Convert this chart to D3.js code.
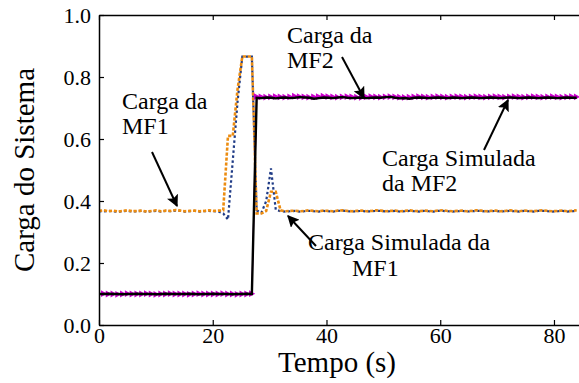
<!DOCTYPE html>
<html>
<head>
<meta charset="utf-8">
<script src="https://cdn.jsdelivr.net/npm/d3@7/dist/d3.min.js"></script>
<style>
html,body{margin:0;padding:0;background:#fff;}
svg{display:block;}
svg text{font-family:"Liberation Serif","Tinos","Times New Roman",Times,"Nimbus Roman","DejaVu Serif",serif !important;fill:#000;}
</style>
</head>
<body>
<svg id="chart" width="579" height="383"></svg>
<script>
// ---- data ----
const time = [0,0.84,1.68,2.52,3.36,4.2,5.04,5.88,6.72,7.56,8.4,9.24,10.08,10.92,11.76,12.6,13.44,14.28,15.12,15.96,16.8,17.64,18.48,19.32,20.16,21,21.84,22.68,23.52,24.36,25.2,26.04,26.88,27.72,28.56,29.4,30.24,31.08,31.92,32.76,33.6,34.44,35.28,36.12,36.96,37.8,38.64,39.48,40.32,41.16,42,42.84,43.68,44.52,45.36,46.2,47.04,47.88,48.72,49.56,50.4,51.24,52.08,52.92,53.76,54.6,55.44,56.28,57.12,57.96,58.8,59.64,60.48,61.32,62.16,63,63.84,64.68,65.52,66.36,67.2,68.04,68.88,69.72,70.56,71.4,72.24,73.08,73.92,74.76,75.6,76.44,77.28,78.12,78.96,79.8,80.64,81.48,82.32,83.16,84];

const mf2Sim = [0.100,0.101,0.100,0.100,0.099,0.100,0.101,0.100,0.100,0.100,0.101,0.100,0.099,0.100,0.100,0.101,0.100,0.100,0.100,0.099,0.100,0.101,0.100,0.100,0.100,0.100,0.101,0.100,0.100,0.099,0.100,0.100,0.101,
0.737,0.736,0.735,0.736,0.737,0.736,0.735,0.736,0.738,0.737,
0.736,0.735,0.736,0.737,0.738,0.737,0.736,0.735,0.736,0.737,
0.736,0.735,0.734,0.736,0.737,0.736,0.735,0.736,0.737,0.736,
0.735,0.734,0.735,0.736,0.737,0.736,0.735,0.736,0.737,0.736,
0.735,0.736,0.737,0.736,0.735,0.736,0.737,0.736,0.735,0.736,
0.737,0.736,0.735,0.736,0.737,0.736,0.735,0.736,0.737,0.736,
0.735,0.736,0.737,0.736,0.735,0.736,0.737,0.736];

const mf2Real = [0.100,0.100,0.101,0.100,0.100,0.099,0.100,0.100,0.101,0.100,0.100,0.100,0.099,0.100,0.101,0.100,0.100,0.100,0.100,0.101,0.100,0.099,0.100,0.100,0.101,0.100,0.100,0.100,0.099,0.100,0.100,0.101,0.100,
0.733,0.732,0.734,0.733,0.731,0.733,0.734,0.732,0.733,0.735,
0.734,0.733,0.730,0.732,0.734,0.733,0.732,0.734,0.735,0.733,
0.732,0.733,0.734,0.732,0.733,0.734,0.733,0.735,0.736,0.733,
0.731,0.732,0.730,0.733,0.734,0.733,0.732,0.733,0.734,0.733,
0.732,0.734,0.733,0.732,0.733,0.734,0.733,0.732,0.733,0.734,
0.733,0.732,0.733,0.734,0.733,0.732,0.733,0.734,0.733,0.732,
0.733,0.734,0.733,0.732,0.733,0.734,0.733,0.733];

const mf1Sim = [0.368,0.370,0.367,0.369,0.366,0.368,0.370,0.367,0.368,0.369,0.366,0.368,0.370,0.367,0.369,0.368,0.371,0.369,0.367,0.368,0.369,0.367,0.368,0.370,0.368,0.369,
0.370,0.610,0.610,0.760,0.866,0.866,0.866,0.360,0.360,0.368,0.430,0.430,0.370,
0.367,0.368,0.369,0.367,0.368,0.370,0.368,0.367,0.369,0.368,
0.367,0.369,0.370,0.368,0.367,0.368,0.369,0.367,0.368,0.370,
0.369,0.367,0.368,0.369,0.367,0.368,0.370,0.368,0.367,0.369,
0.368,0.367,0.369,0.370,0.368,0.367,0.368,0.369,0.367,0.368,
0.370,0.369,0.367,0.368,0.369,0.367,0.368,0.370,0.368,0.367,
0.369,0.368,0.367,0.369,0.370,0.368,0.367,0.368,0.369,0.367,
0.368,0.370];

const mf1Real = [0.367,0.366,0.368,0.367,0.365,0.367,0.368,0.366,0.367,0.368,0.365,0.367,0.368,0.366,0.368,0.367,0.369,0.368,0.366,0.367,0.368,0.366,0.367,0.368,0.367,0.366,
0.360,0.340,0.530,0.720,0.866,0.866,0.866,0.370,0.362,0.400,0.505,0.372,0.367,
0.366,0.367,0.368,0.366,0.367,0.368,0.367,0.366,0.368,0.367,
0.366,0.368,0.369,0.367,0.366,0.367,0.368,0.366,0.367,0.368,
0.368,0.366,0.367,0.368,0.366,0.367,0.368,0.367,0.366,0.368,
0.367,0.366,0.368,0.368,0.367,0.366,0.367,0.368,0.366,0.367,
0.368,0.368,0.366,0.367,0.368,0.366,0.367,0.368,0.367,0.366,
0.368,0.367,0.366,0.368,0.368,0.367,0.366,0.367,0.368,0.366,
0.367,0.368];

const xTicks = [0,20,40,60,80];
const yTicks = [0.0,0.2,0.4,0.6,0.8,1.0];
const xTitle = "Tempo (s)";
const yTitle = "Carga do Sistema";

// ---- chart ----
const SERIF = '"Liberation Serif","Tinos","Times New Roman",Times,"Nimbus Roman","DejaVu Serif",serif';
const svg = d3.select("#chart");
const L = 99, R = 579, T = 15, B = 325;
const x = d3.scaleLinear().domain([0, 84.4]).range([L, R]);
const y = d3.scaleLinear().domain([0, 1]).range([B, T]);

svg.append("defs").append("clipPath").attr("id","clip")
  .append("rect").attr("x",L).attr("y",T-5).attr("width",R-L+5).attr("height",B-T+10);

const pts = arr => time.map((t,i)=>[t,arr[i]]);
const line = d3.line().x(d=>x(d[0])).y(d=>y(d[1]));

const g = svg.append("g").attr("clip-path","url(#clip)");

// MF1 real (blue dotted)
g.append("path").attr("d", line(pts(mf1Real)))
  .attr("fill","none").attr("stroke","#1f3b86").attr("stroke-width",2.2)
  .attr("stroke-dasharray","2.5,2.5");
// MF1 simulated (orange dotted)
g.append("path").attr("d", line(pts(mf1Sim)))
  .attr("fill","none").attr("stroke","#ec8c10").attr("stroke-width",2.6)
  .attr("stroke-dasharray","3.2,1.8");
// MF2 simulated (magenta + triangles)
g.append("path").attr("d", line(pts(mf2Sim)))
  .attr("fill","none").attr("stroke","#cc00cc").attr("stroke-width",1.2);
g.selectAll("path.tri").data(pts(mf2Sim)).enter().append("path")
  .attr("class","tri")
  .attr("d","M-2.8,-3.4L3.4,0L-2.8,3.4Z")
  .attr("transform",d=>`translate(${x(d[0])},${y(d[1])})`)
  .attr("fill","#cc00cc");
// MF2 real (black solid)
g.append("path").attr("d", line(pts(mf2Real)))
  .attr("fill","none").attr("stroke","#000").attr("stroke-width",2.4);

// axes
const ax = svg.append("g").attr("transform",`translate(0,${B})`)
  .call(d3.axisBottom(x).tickValues(xTicks).tickFormat(d3.format("d")).tickSizeInner(-5).tickSizeOuter(0).tickPadding(2));
const axTop = svg.append("g").attr("transform",`translate(0,${T})`)
  .call(d3.axisTop(x).tickValues(xTicks).tickFormat("").tickSizeInner(-5).tickSizeOuter(0));
const ay = svg.append("g").attr("transform",`translate(${L},0)`)
  .call(d3.axisLeft(y).tickValues(yTicks).tickFormat(d3.format(".1f")).tickSizeInner(-5).tickSizeOuter(0).tickPadding(8));
[ax,axTop,ay].forEach(a=>{
  a.attr("font-family",SERIF).attr("font-size",22);
  a.select(".domain").attr("stroke","#000").attr("stroke-width",1.5);
  a.selectAll(".tick line").attr("stroke","#000").attr("stroke-width",1.2);
  a.selectAll("text").attr("font-family",SERIF).attr("font-size",22).attr("fill","#000");
});
ay.selectAll(".tick text").attr("dy","0.35em");

// axis titles
svg.append("text").attr("x",337).attr("y",372).attr("text-anchor","middle")
  .attr("font-family",SERIF).attr("font-size",29).text(xTitle);
svg.append("text").attr("transform","translate(34,170) rotate(-90)").attr("text-anchor","middle")
  .attr("font-family",SERIF).attr("font-size",29).text(yTitle);

// annotations
function label(lines, x0, y0){
  const t = svg.append("text").attr("x",x0).attr("y",y0)
    .attr("font-family",SERIF).attr("font-size",24);
  lines.forEach((s,i)=>t.append("tspan").attr("x",x0).attr("dy", i===0?0:25).text(s));
}
label(["Carga da","MF1"],122,109);
label(["Carga da","MF2"],287,43);
label(["Carga Simulada","da MF2"],382,166);
label(["Carga Simulada da"],308,250);
label(["MF1"],352,276);

// arrows
const defs = svg.select("defs");
defs.append("marker").attr("id","ah").attr("viewBox","0 0 10 10").attr("refX",9).attr("refY",5)
  .attr("markerWidth",6).attr("markerHeight",6).attr("markerUnits","strokeWidth").attr("orient","auto")
  .append("path").attr("d","M0,0L10,5L0,10L2,5Z").attr("fill","#000");
function arrow(x1,y1,x2,y2){
  svg.append("line").attr("x1",x1).attr("y1",y1).attr("x2",x2).attr("y2",y2)
    .attr("stroke","#000").attr("stroke-width",2).attr("marker-end","url(#ah)");
}
arrow(152,152,177,206);
arrow(342,57,364,98);
arrow(484,150,508,100);
arrow(316,246,288,216);
</script>
</body>
</html>
